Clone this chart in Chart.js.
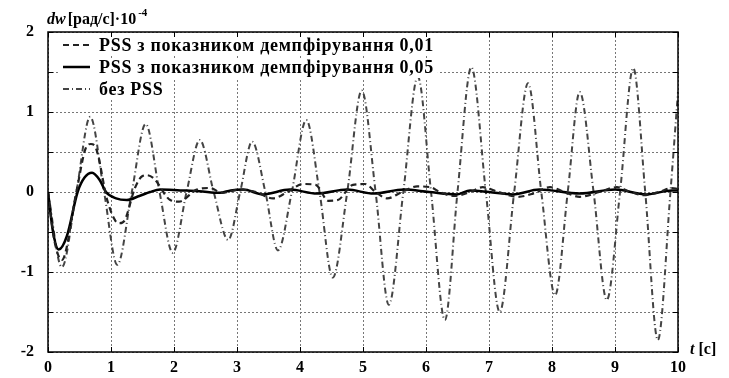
<!DOCTYPE html>
<html>
<head>
<meta charset="utf-8">
<script src="https://cdn.jsdelivr.net/npm/chart.js@4/dist/chart.umd.min.js"></script>
<style>
  html, body { margin: 0; padding: 0; background: #fff; }
  #wrap { width: 729px; height: 378px; position: relative; }
</style>
</head>
<body>
<div id="wrap"><canvas id="dwChart" width="729" height="378"></canvas></div>
<script>
// legend labels
const seriesNames = [
  'PSS з показником демпфірування 0,01',
  'PSS з показником демпфірування 0,05',
  'без PSS'
];

// tick labels
const xTicks = [0, 1, 2, 3, 4, 5, 6, 7, 8, 9, 10];
const yTicks = [-2, -1, 0, 1, 2];
const yGrid = [-2, -1.5, -1, -0.5, 0, 0.5, 1, 1.5, 2];

// PSS, damping 0.01 (dashed)
const pss01T = [0, 0.1, 0.22, 0.45, 0.6, 0.68, 0.76, 0.94, 1.07, 1.14, 1.22, 1.38, 1.5, 1.57, 1.68, 1.94, 2.08, 2.36, 2.57, 2.76,
  3.05, 3.3, 3.57, 3.8, 4.05, 4.25, 4.45, 4.6, 4.84, 5.03, 5.2, 5.38, 5.62, 5.86, 6.07, 6.22, 6.45, 6.7, 6.9, 7.15, 7.45,
  7.7, 7.97, 8.2, 8.44, 8.75, 9.03, 9.25, 9.45, 9.7, 9.9, 10];
const pss01Y = [0, -0.6, -0.85, 0, 0.55, 0.6, 0.55, -0.1, -0.36, -0.39, -0.35, 0.05, 0.2, 0.21, 0.17, -0.1, -0.12, 0.03, 0.05, -0.01,
  0.03, 0.0, -0.08, 0.0, 0.1, 0.09, -0.11, -0.1, 0.09, 0.1, 0.0, -0.08, 0.0, 0.07, 0.06, 0.0, -0.05, 0.0, 0.06, 0.0, -0.06,
  -0.02, 0.06, 0.0, -0.06, 0.0, 0.06, 0.0, -0.04, 0.0, 0.05, 0.04];

// PSS, damping 0.05 (solid)
const pss05T = [0, 0.08, 0.17, 0.3, 0.47, 0.58, 0.7, 0.82, 0.92, 1.08, 1.25, 1.45, 1.62, 1.78, 2.1, 2.4, 2.73, 2.9, 3.1,
  3.41, 3.84, 4.27, 4.75, 5.17, 5.65, 6.05, 6.49, 6.7, 7.0, 7.38, 7.8, 8.44, 9.0, 9.5, 9.9, 10];
const pss05Y = [0, -0.5, -0.72, -0.55, 0.0, 0.18, 0.24, 0.15, 0.0, -0.08, -0.1, -0.05, 0.0, 0.03, 0.02, 0.01, -0.01, 0.02, 0.03,
  -0.03, 0.03, -0.02, 0.03, -0.02, 0.03, 0.0, -0.03, 0.02, 0.0, -0.03, 0.03, -0.02, 0.03, -0.03, 0.02, 0.02];

// without PSS (dash-dot)
const noPssT = [0, 0.22, 0.45, 0.67, 0.89, 1.1, 1.33, 1.55, 1.77, 1.98, 2.2, 2.41, 2.63, 2.86, 3.05, 3.24, 3.45, 3.65, 3.87,
  4.1, 4.31, 4.52, 4.75, 4.98, 5.2, 5.41, 5.64, 5.87, 6.08, 6.3, 6.5, 6.72, 6.95, 7.17, 7.4, 7.62, 7.83, 8.05, 8.25, 8.44,
  8.66, 8.87, 9.08, 9.29, 9.48, 9.68, 9.88, 10];
const noPssY = [0, -0.94, 0, 0.94, 0, -0.91, 0, 0.85, 0, -0.76, 0, 0.65, 0, -0.6, 0, 0.63, 0, -0.73, 0,
  0.9, 0, -1.07, 0, 1.27, 0, -1.41, 0, 1.44, 0, -1.6, 0, 1.56, 0, -1.5, 0, 1.36, 0, -1.29, 0, 1.25,
  0, -1.35, 0, 1.55, 0, -1.85, 0, 1.25];

const toPoints = (t, y) => t.map((v, i) => ({ x: v, y: y[i] }));

const serif = '"Liberation Serif", "Times New Roman", serif';

// dotted grid under the curves
const dottedGrid = {
  id: 'dottedGrid',
  beforeDatasetsDraw(chart) {
    const { ctx, chartArea: a, scales } = chart;
    ctx.save();
    ctx.strokeStyle = '#777';
    ctx.lineWidth = 1;
    ctx.setLineDash([2, 2]);
    ctx.beginPath();
    xTicks.forEach(v => {
      const px = Math.round(scales.x.getPixelForValue(v)) + 0.5;
      ctx.moveTo(px, a.top); ctx.lineTo(px, a.bottom);
    });
    yGrid.forEach(v => {
      const py = Math.round(scales.y.getPixelForValue(v)) + 0.5;
      ctx.moveTo(a.left, py); ctx.lineTo(a.right, py);
    });
    ctx.stroke();
    ctx.restore();
  }
};

// frame, inward ticks, axis titles and the legend
const decor = {
  id: 'decor',
  afterDraw(chart) {
    const { ctx, chartArea: a, scales } = chart;
    const xs = scales.x, ys = scales.y;
    ctx.save();

    // legend (white box behind each entry hides the grid)
    const rows = [51, 73, 95];
    ctx.font = 'bold 18px ' + serif;
    ctx.letterSpacing = '0.7px';
    chart.data.datasets.forEach((ds, i) => {
      const y = rows[i];
      const w = ctx.measureText(ds.label).width;
      ctx.fillStyle = '#fff';
      ctx.fillRect(58, y - 15, 99 + w - 58 + 4, 20);
      ctx.save();
      ctx.strokeStyle = ds.borderColor;
      ctx.lineWidth = ds.borderWidth;
      ctx.setLineDash(ds.borderDash || []);
      ctx.beginPath();
      ctx.moveTo(63, y - 6);
      ctx.lineTo(90, y - 6);
      ctx.stroke();
      ctx.restore();
      ctx.fillStyle = '#000';
      ctx.fillText(ds.label, 99, y);
    });
    ctx.letterSpacing = '0px';

    ctx.strokeStyle = '#000';
    ctx.lineWidth = 1.5;
    ctx.setLineDash([]);
    ctx.strokeRect(a.left, a.top, a.right - a.left, a.bottom - a.top);
    ctx.lineWidth = 1;
    ctx.beginPath();
    xTicks.forEach(v => {
      const px = Math.round(xs.getPixelForValue(v)) + 0.5;
      ctx.moveTo(px, a.bottom); ctx.lineTo(px, a.bottom - 5);
      ctx.moveTo(px, a.top); ctx.lineTo(px, a.top + 5);
    });
    yGrid.forEach(v => {
      const py = Math.round(ys.getPixelForValue(v)) + 0.5;
      ctx.moveTo(a.left, py); ctx.lineTo(a.left + 5, py);
      ctx.moveTo(a.right, py); ctx.lineTo(a.right - 5, py);
    });
    ctx.stroke();

    // y axis title
    ctx.fillStyle = '#000';
    ctx.textBaseline = 'alphabetic';
    let x = 47;
    ctx.font = 'italic bold 16px ' + serif;
    ctx.fillText('dw', x, 24);
    x += ctx.measureText('dw').width + 2;
    ctx.font = 'bold 16px ' + serif;
    ctx.fillText('[рад/с]·10', x, 24);
    x += ctx.measureText('[рад/с]·10').width + 2;
    ctx.font = 'bold 11px ' + serif;
    ctx.fillText('-4', x, 16);

    // x axis title
    x = 690;
    ctx.font = 'italic bold 16px ' + serif;
    ctx.fillText('t', x, 354);
    x += ctx.measureText('t').width + 4;
    ctx.font = 'bold 16px ' + serif;
    ctx.fillText('[c]', x, 354);
    ctx.restore();
  }
};

new Chart(document.getElementById('dwChart'), {
  type: 'line',
  data: {
    datasets: [
      {
        label: seriesNames[0],
        data: toPoints(pss01T, pss01Y),
        borderColor: '#222',
        borderWidth: 2.2,
        borderDash: [6, 4]
      },
      {
        label: seriesNames[1],
        data: toPoints(pss05T, pss05Y),
        borderColor: '#000',
        borderWidth: 2.5
      },
      {
        label: seriesNames[2],
        data: toPoints(noPssT, noPssY),
        borderColor: '#444',
        borderWidth: 2,
        borderDash: [6, 3, 1, 3]
      }
    ]
  },
  options: {
    responsive: false,
    animation: false,
    events: [],
    layout: { padding: { top: 32, right: 51, left: 0, bottom: 0 } },
    elements: {
      point: { radius: 0 },
      line: { cubicInterpolationMode: 'monotone', fill: false }
    },
    plugins: { legend: { display: false }, tooltip: { enabled: false } },
    scales: {
      x: {
        type: 'linear',
        min: 0,
        max: 10,
        afterFit: s => { s.height = 26; },
        afterBuildTicks: s => { s.ticks = xTicks.map(v => ({ value: v })); },
        ticks: { color: '#000', padding: 6, font: { family: serif, size: 16, weight: 'bold' } },
        grid: { display: false, drawTicks: false },
        border: { display: false }
      },
      y: {
        type: 'linear',
        min: -2,
        max: 2,
        afterFit: s => { s.width = 48; },
        afterBuildTicks: s => { s.ticks = yTicks.map(v => ({ value: v })); },
        ticks: { color: '#000', padding: 14, font: { family: serif, size: 16, weight: 'bold' } },
        grid: { display: false, drawTicks: false },
        border: { display: false }
      }
    }
  },
  plugins: [dottedGrid, decor]
});
</script>
</body>
</html>
